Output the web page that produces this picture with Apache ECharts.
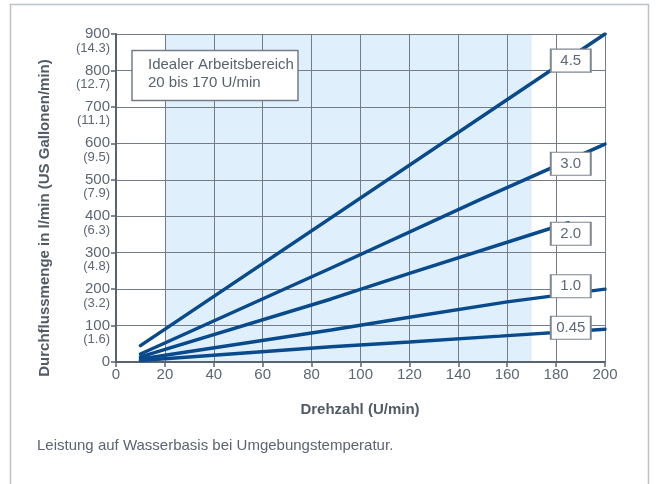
<!DOCTYPE html>
<html>
<head>
<meta charset="utf-8">
<title>Durchflussmenge</title>
<script src="https://cdn.jsdelivr.net/npm/echarts@6/dist/echarts.min.js"></script>
<style>
  html, body { margin: 0; padding: 0; background: #fff; }
  #chart { width: 656px; height: 484px; }
</style>
</head>
<body>
<div id="chart"></div>
<script>
// tick labels on the y axis: l/min and US gal/min underneath
const yMain = [0, 100, 200, 300, 400, 500, 600, 700, 800, 900];
const ySub = ['', '(1.6)', '(3.2)', '(4.8)', '(6.3)', '(7.9)', '(9.5)', '(11.1)', '(12.7)', '(14.3)'];

// curves per displacement [rpm, l/min]
const line45 = [[10, 45], [200, 900]];
const line30 = [[10, 22], [88, 258], [150, 449], [200, 598]];
const line20 = [[10, 14], [88, 173], [120, 243], [185, 382]];
const line10 = [[10, 8], [88, 88], [120, 123], [160, 165], [200, 200]];
const line045 = [[10, 4], [88, 42], [120, 55], [157, 71], [200, 90]];

const seriesNames = ['4.5', '3.0', '2.0', '1.0', '0.45'];
const seriesData = [line45, line30, line20, line10, line045];
// where the little label boxes sit (data coords)
const labelX = 186;
const labelY = [827, 544, 352, 208, 94];

// ideal operating range
const rangeFrom = 20;
const rangeTo = 170;

const textColor = '#5d6671';
const gridColor = '#737c87';
const lineColor = '#084a8c';
const font = 'Liberation Sans, Arial, sans-serif';

const chart = echarts.init(document.getElementById('chart'));

const series = seriesData.map((data, i) => ({
  name: seriesNames[i],
  type: 'line',
  data,
  symbol: 'none',
  z: 5,
  lineStyle: { color: lineColor, width: 3.5, cap: 'round' },
}));

// the boxed curve names
series.push({
  type: 'scatter',
  z: 8,
  silent: true,
  symbol: 'rect',
  symbolSize: [40, 23],
  itemStyle: { color: '#fff', borderColor: '#7d858f', borderWidth: 1.5, opacity: 1 },
  label: {
    show: true,
    position: 'inside',
    color: '#5f6873',
    fontSize: 15,
    fontFamily: font,
    formatter: (p) => seriesNames[p.dataIndex],
  },
  data: labelY.map((y) => [labelX, y]),
});

// shaded band, under the grid lines (axes get a higher z)
series.push({
  type: 'line',
  data: [],
  z: 1,
  silent: true,
  markArea: {
    silent: true,
    itemStyle: { color: '#dff0fc' },
    data: [[{ xAxis: rangeFrom }, { xAxis: rangeTo }]],
  },
});

const yBase = {
  type: 'value',
  position: 'left',
  z: 3,
  min: 0,
  max: 900,
  interval: 100,
};

const option = {
  animation: false,
  textStyle: { fontFamily: font },
  grid: { left: 116, top: 34, width: 489, height: 328 },
  xAxis: {
    type: 'value',
    z: 3,
    min: 0,
    max: 200,
    interval: 20,
    axisLine: { show: true, lineStyle: { color: '#5a6470', width: 2 } },
    axisTick: { show: true, length: 5, lineStyle: { color: '#5a6470', width: 1.5 } },
    axisLabel: { color: textColor, fontSize: 15, margin: 5, showMaxLabel: true },
    splitLine: { show: true, lineStyle: { color: gridColor, width: 1 } },
  },
  yAxis: [
    {
      ...yBase,
      axisLine: { show: true, lineStyle: { color: '#5a6470', width: 2 } },
      axisTick: { show: true, length: 5, lineStyle: { color: '#5a6470', width: 1.5 } },
      axisLabel: { margin: 6, color: textColor, fontSize: 15, showMaxLabel: true },
      splitLine: { show: true, lineStyle: { color: gridColor, width: 1 } },
    },
    {
      // gallons per minute, printed under each l/min value
      ...yBase,
      axisLine: { show: false },
      axisTick: { show: false },
      splitLine: { show: false },
      axisLabel: {
        margin: 6,
        color: textColor,
        fontSize: 13,
        verticalAlign: 'top',
        lineHeight: 14,
        padding: [7, 0, 0, 0],
        showMaxLabel: true,
        formatter: (v) => ySub[yMain.indexOf(v)] || '',
      },
    },
  ],
  graphic: [
    {
      type: 'rect',
      shape: { x: 10.5, y: 4.5, width: 638, height: 500 },
      style: { fill: 'none', stroke: '#bcc2c8', lineWidth: 1.5 },
      silent: true,
    },
    {
      type: 'text',
      x: 45,
      y: 218,
      rotation: Math.PI / 2,
      style: {
        text: 'Durchflussmenge in l/min (US Gallonen/min)',
        fill: '#515b66',
        font: 'bold 15px ' + font,
        align: 'center',
        verticalAlign: 'middle',
      },
    },
    {
      type: 'text',
      x: 360,
      y: 410,
      style: {
        text: 'Drehzahl (U/min)',
        fill: '#515b66',
        font: 'bold 15px ' + font,
        align: 'center',
        verticalAlign: 'middle',
      },
    },
    {
      type: 'text',
      x: 37,
      y: 446,
      style: {
        text: 'Leistung auf Wasserbasis bei Umgebungstemperatur.',
        fill: '#5b6470',
        font: '15px ' + font,
        verticalAlign: 'middle',
      },
    },
    {
      type: 'rect',
      z: 100,
      shape: { x: 132, y: 50.5, width: 166, height: 50 },
      style: { fill: '#fff', stroke: '#737c87', lineWidth: 1.5 },
    },
    {
      type: 'text',
      z: 101,
      x: 148,
      y: 56,
      style: {
        text: 'Idealer Arbeitsbereich\n20 bis 170 U/min',
        fill: '#59626d',
        font: '15px ' + font,
        lineHeight: 18,
      },
    },
  ],
  series,
};

chart.setOption(option);
</script>
</body>
</html>
